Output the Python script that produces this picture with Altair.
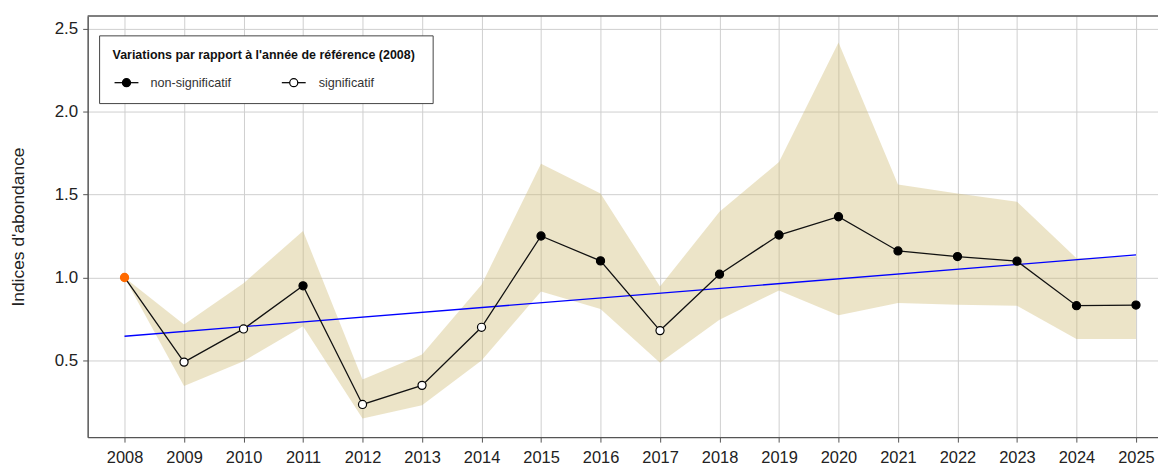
import altair as alt
import pandas as pd

# ---- data ----
years = list(range(2008, 2026))
index_vals = [1.00, 0.49, 0.69, 0.95, 0.235, 0.35, 0.70, 1.25, 1.10, 0.68,
              1.02, 1.256, 1.366, 1.16, 1.126, 1.098, 0.83, 0.834]
lower_vals = [1.00, 0.346, 0.496, 0.706, 0.15, 0.23, 0.50, 0.916, 0.81, 0.486,
              0.746, 0.922, 0.772, 0.846, 0.836, 0.83, 0.63, 0.63]
upper_vals = [1.00, 0.716, 0.966, 1.28, 0.386, 0.536, 0.956, 1.686, 1.506, 0.946,
              1.396, 1.696, 2.416, 1.56, 1.506, 1.456, 1.116, 1.126]
status = ["référence", "significatif", "significatif", "non-significatif",
          "significatif", "significatif", "significatif", "non-significatif",
          "non-significatif", "significatif", "non-significatif", "non-significatif",
          "non-significatif", "non-significatif", "non-significatif",
          "non-significatif", "non-significatif", "non-significatif"]
trend_years = [2008, 2025]
trend_vals = [0.646, 1.136]
y_ticks = [0.5, 1.0, 1.5, 2.0, 2.5]

legend_title = "Variations par rapport à l'année de référence (2008)"
legend_labels = ["non-significatif", "significatif"]

df = pd.DataFrame({"annee": years, "indice": index_vals, "bas": lower_vals,
                   "haut": upper_vals, "statut": status})
df_trend = pd.DataFrame({"annee": trend_years, "tendance": trend_vals})
one = pd.DataFrame({"k": [0]})

W, H = 1075, 423
FONT = "Liberation Sans"

xscale = alt.Scale(domain=[2007.38, 2025.37], nice=False, zero=False)
yscale = alt.Scale(domain=[0.038, 2.576], nice=False, zero=False)

xaxis = alt.Axis(values=years, format="d", title=None, grid=True,
                 gridColor="#cfcfcf", gridWidth=1, domainColor="#555555",
                 domainWidth=1.5, tickColor="#555555", tickSize=5,
                 labelFontSize=16.5, labelColor="#222222", labelFont=FONT,
                 labelPadding=7, labelFlush=False, labelOverlap=False)
yaxis = alt.Axis(values=y_ticks, format=".1f", title="Indices d'abondance",
                 grid=True, gridColor="#cfcfcf", gridWidth=1,
                 domainColor="#555555", domainWidth=1.5, tickColor="#555555",
                 tickSize=5, labelFontSize=17, labelColor="#222222",
                 labelFont=FONT, labelPadding=5, titleFont=FONT,
                 titleFontSize=17.5, titleFontWeight="normal",
                 titleColor="#222222", titlePadding=27)

band = alt.Chart(df).mark_area(color="#CDB96E", opacity=0.38).encode(
    x=alt.X("annee:Q", scale=xscale, axis=xaxis),
    y=alt.Y("bas:Q", scale=yscale, axis=yaxis),
    y2="haut:Q",
)

line = alt.Chart(df).mark_line(color="#111111", strokeWidth=1.3).encode(
    x=alt.X("annee:Q", scale=xscale),
    y=alt.Y("indice:Q", scale=yscale),
)

trend = alt.Chart(df_trend).mark_line(color="#0000FF", strokeWidth=1.3).encode(
    x=alt.X("annee:Q", scale=xscale),
    y=alt.Y("tendance:Q", scale=yscale),
)

pts = alt.Chart(df).mark_point(shape="circle", filled=True, size=66,
                               strokeWidth=1.2, opacity=1).encode(
    x=alt.X("annee:Q", scale=xscale),
    y=alt.Y("indice:Q", scale=yscale),
    fill=alt.Fill("statut:N", scale=alt.Scale(
        domain=["référence", "significatif", "non-significatif"],
        range=["#FF6A00", "#FFFFFF", "#000000"]), legend=None),
    stroke=alt.Stroke("statut:N", scale=alt.Scale(
        domain=["référence", "significatif", "non-significatif"],
        range=["#FF6A00", "#000000", "#000000"]), legend=None),
)

# top border of the plot box
top_rule = alt.Chart(one).mark_rule(color="#555555", strokeWidth=1.5).encode(
    x=alt.value(0), x2=alt.value(W + 3), y=alt.value(0))

# hand-drawn legend box (as in the reference)
leg_box = alt.Chart(one).mark_rect(fill="white", stroke="#444444",
                                   strokeWidth=1).encode(
    x=alt.value(12), x2=alt.value(347), y=alt.value(20), y2=alt.value(88))
leg_title = alt.Chart(one).mark_text(align="left", baseline="middle",
                                     font=FONT, fontSize=12.5, fontWeight="bold",
                                     color="#111111").encode(
    x=alt.value(25), y=alt.value(39), text=alt.value(legend_title))
leg_line1 = alt.Chart(one).mark_rule(color="#111111", strokeWidth=1.3).encode(
    x=alt.value(27), x2=alt.value(51), y=alt.value(67))
leg_line2 = alt.Chart(one).mark_rule(color="#111111", strokeWidth=1.3).encode(
    x=alt.value(195), x2=alt.value(219), y=alt.value(67))
leg_dot1 = alt.Chart(one).mark_point(shape="circle", filled=True, size=66,
                                     fill="#000000", stroke="#000000",
                                     strokeWidth=1.2, opacity=1).encode(
    x=alt.value(39), y=alt.value(67))
leg_dot2 = alt.Chart(one).mark_point(shape="circle", filled=True, size=66,
                                     fill="#FFFFFF", stroke="#000000",
                                     strokeWidth=1.2, opacity=1).encode(
    x=alt.value(207), y=alt.value(67))
leg_lab1 = alt.Chart(one).mark_text(align="left", baseline="middle", font=FONT,
                                    fontSize=12.7, color="#333333").encode(
    x=alt.value(63), y=alt.value(67), text=alt.value(legend_labels[0]))
leg_lab2 = alt.Chart(one).mark_text(align="left", baseline="middle", font=FONT,
                                    fontSize=12.7, color="#333333").encode(
    x=alt.value(232), y=alt.value(67), text=alt.value(legend_labels[1]))

chart = alt.layer(
    band, trend, line, pts, top_rule,
    leg_box, leg_title, leg_line1, leg_line2, leg_dot1, leg_dot2,
    leg_lab1, leg_lab2,
).properties(
    width=W, height=H,
    padding={"left": 80, "top": 7, "right": 0, "bottom": 28},
    autosize=alt.AutoSizeParams(type="none"),
).configure_view(stroke=None)

chart.save("out.html", embed_options={"renderer": "svg", "actions": False})
